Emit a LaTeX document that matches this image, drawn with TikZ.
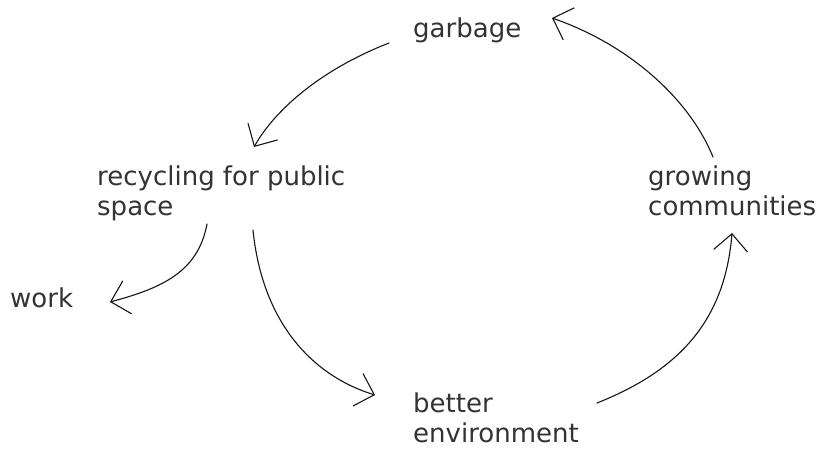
\documentclass[tikz,border=0pt]{standalone}
\usepackage{fontspec}
\setmainfont{DejaVu Sans}
\usetikzlibrary{arrows.meta}
\definecolor{txt}{HTML}{333333}
\definecolor{ink}{HTML}{151515}
\begin{document}
\begin{tikzpicture}[x=1pt,y=-1pt,
  label/.style={anchor=base west,inner sep=0pt,align=left,text=txt,
    font=\fontsize{26}{30}\selectfont},
  sketch/.style={draw=ink,line width=1.1pt,line cap=round,line join=round,
    -{Straight Barb[length=17pt,width=34pt,line width=1.1pt]}}]
\useasboundingbox (0,0) rectangle (835,448);
\node[label] (garbage) at (413,37) {garbage};
\node[label] (recycling) at (97,215) {recycling for public\\space};
\node[label] (work) at (10,307) {work};
\node[label] (better) at (413,442) {better\\environment};
\node[label] (growing) at (648,215) {growing\\communities};
% connector ends
\coordinate (g1) at (389,43);
\coordinate (r1) at (254,147);
\coordinate (r2) at (207,224);
\coordinate (w1) at (110,302);
\coordinate (r3) at (253,230);
\coordinate (b1) at (375,395);
\coordinate (b2) at (597,403);
\coordinate (c1) at (732,233);
\coordinate (c2) at (713,157);
\coordinate (g2) at (552,18);
\draw[sketch] (g1) .. controls (320,70) and (275,110) .. (r1);
\draw[sketch] (r2) .. controls (198,272) and (162,288) .. (w1);
\draw[sketch] (r3) .. controls (262,320) and (310,375) .. (b1);
\draw[sketch] (b2) .. controls (680,370) and (725,320) .. (c1);
\draw[sketch] (c2) .. controls (690,100) and (630,45) .. (g2);
\end{tikzpicture}
\end{document}
